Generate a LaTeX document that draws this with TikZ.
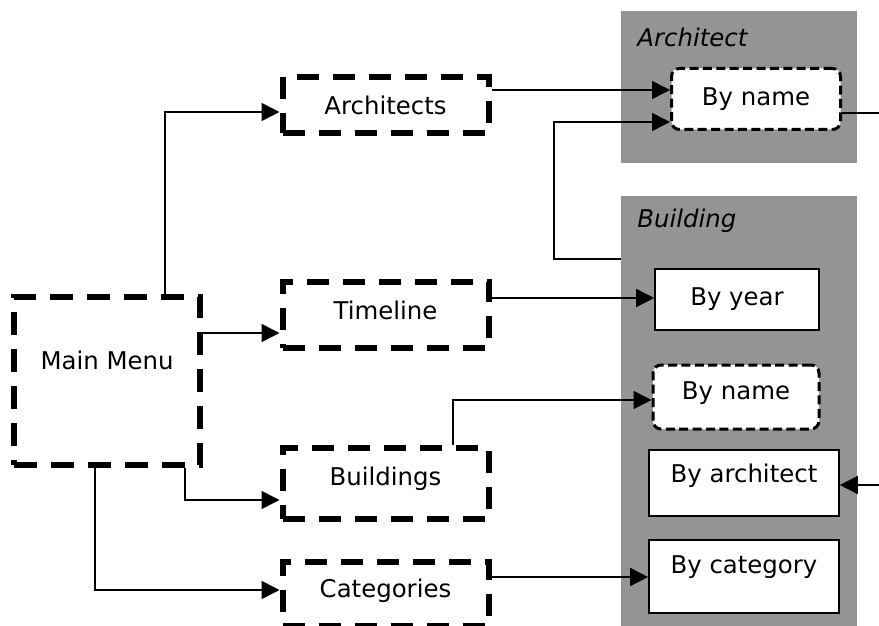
\documentclass[tikz,border=0pt]{standalone}
\usepackage{fontspec}
\setmainfont{DejaVu Sans}
\usetikzlibrary{arrows.meta}
\definecolor{groupgray}{gray}{0.58}
\begin{document}
\begin{tikzpicture}[x=0.5pt,y=-0.5pt,
  font=\fontsize{12.2}{14}\selectfont,
  group/.style={fill=groupgray, draw=none, inner sep=0pt},
  grouptitle/.style={font=\fontsize{12.2}{14}\selectfont\itshape, anchor=west, inner sep=0pt},
  heavydash/.style={draw, line width=3pt, dash pattern=on 11pt off 7pt, fill=white, inner sep=0pt},
  menudash/.style={draw, line width=3.3pt, dash pattern=on 11.5pt off 7pt, fill=white, inner sep=0pt},
  softdash/.style={draw, line width=1.5pt, dash pattern=on 4.5pt off 2.2pt, rounded corners=4pt, fill=white, inner sep=0pt},
  plainbox/.style={draw, line width=0.8pt, fill=white, inner sep=0pt},
  conn/.style={line width=0.75pt, -{Triangle[length=9pt,width=9pt]}},
  wire/.style={line width=0.75pt}]
\useasboundingbox (0,0) rectangle (879,626);

% grey group panels
\node[group, minimum width=118pt, minimum height=76pt] (gArch) at (739,87) {};
\node[group, minimum width=118pt, minimum height=222pt] (gBuild) at (739,418) {};
\node[grouptitle] (tArch) at (637,37) {Architect};
\node[grouptitle] (tBuild) at (637,221) {Building};

% menu entries
\node[menudash, minimum width=93pt, minimum height=84pt,
      label={[yshift=10.5pt]center:Main Menu}] (main) at (107,381) {};
\node[heavydash, minimum width=103pt, minimum height=28pt] (arch) at (385.5,105) {Architects};
\node[heavydash, minimum width=103pt, minimum height=33pt,
      label={[yshift=2.5pt]center:Timeline}] (timeline) at (385.5,315) {};
\node[heavydash, minimum width=103pt, minimum height=35.5pt,
      label={[yshift=2.5pt]center:Buildings}] (buildings) at (385.5,483.5) {};
\node[heavydash, minimum width=103pt, minimum height=32pt,
      label={[yshift=1.5pt]center:Categories}] (categories) at (385.5,593.5) {};

% views
\node[softdash, minimum width=84.5pt, minimum height=30.5pt] (bynameA) at (756,99) {By name};
\node[plainbox, minimum width=82pt, minimum height=30.5pt] (byyear) at (737,299.5) {By year};
\node[softdash, minimum width=83pt, minimum height=32pt,
      label={[yshift=2pt]center:By name}] (bynameB) at (736,397) {};
\node[plainbox, minimum width=95pt, minimum height=33pt,
      label={[yshift=3.5pt]center:By architect}] (byarch) at (744,483) {};
\node[plainbox, minimum width=95pt, minimum height=36.5pt,
      label={[yshift=4.75pt]center:By category}] (bycat) at (744,576.5) {};

% loose ends at the right margin
\coordinate (outA) at (879,113);
\coordinate (inB) at (879,485);

% connectors
\draw[conn] (main.north -| 165,0) |- (arch.west |- 0,112);
\draw[conn] (main.east |- 0,333) -- (timeline.west |- 0,333);
\draw[conn] (main.south -| 185,0) |- (buildings.west |- 0,500);
\draw[conn] (main.south -| 95,0) |- (categories.west |- 0,590);
\draw[conn] (arch.east |- 0,90) -- (bynameA.west |- 0,90);
\draw[conn] (gBuild.west |- 0,259) -| (554,122) -- (bynameA.west |- 0,122);
\draw[conn] (timeline.east |- 0,298) -- (byyear.west |- 0,298);
\draw[conn] (buildings.north -| 453,0) |- (bynameB.west |- 0,400);
\draw[conn] (categories.east |- 0,577) -- (bycat.west |- 0,577);
\draw[wire] (bynameA.east |- 0,113) -- (outA);
\draw[conn] (inB) -- (byarch.east |- 0,485);
\end{tikzpicture}
\end{document}
